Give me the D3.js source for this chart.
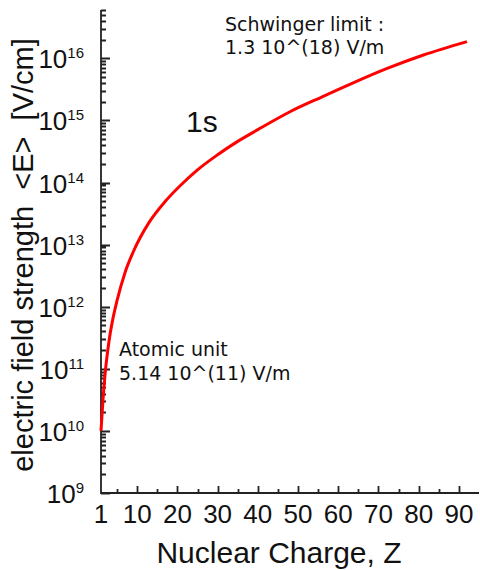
<!DOCTYPE html>
<html>
<head>
<meta charset="utf-8">
<script src="https://cdn.jsdelivr.net/npm/d3@7"></script>
<style>
  body { margin: 0; background: #fff; }
  svg { display: block; }
  .sans { font-family: "Liberation Sans", Arial, sans-serif; fill: #111; }
  .note { font-family: "DejaVu Sans", sans-serif; fill: #111; }
</style>
</head>
<body>
<svg id="chart" width="480" height="570"></svg>
<script>
// Mean electric field of the 1s electron versus nuclear charge
const nuclearCharge = [1, 1.5, 2, 3, 4, 5, 7, 9, 13, 17, 21, 25, 30, 35, 40, 48, 56, 64, 72, 81, 92];
const fieldStrength = [1e10, 3.2e10, 8e10, 2.8e11, 6.6e11, 1.26e12, 3.6e12, 7.6e12, 2.3e13, 5e13,
                       9.3e13, 1.6e14, 2.8e14, 4.6e14, 7.1e14, 1.38e15, 2.4e15, 4.1e15, 6.8e15,
                       1.12e16, 1.86e16];

const xTickLabels = [1, 10, 20, 30, 40, 50, 60, 70, 80, 90];
const xMajorTicks = [10, 20, 30, 40, 50, 60, 70, 80, 90];
const xMinorTicks = [5, 15, 25, 35, 45, 55, 65, 75, 85];
const yDecadeExponents = [9, 10, 11, 12, 13, 14, 15, 16];

const xDomain = [1, 95];
const yDomain = [1e9, 6e16];

const svg = d3.select("#chart");
const plot = { left: 101, right: 479, top: 10, bottom: 493 };

const x = d3.scaleLinear().domain(xDomain).range([plot.left, plot.right]);
const y = d3.scaleLog().domain(yDomain).range([plot.bottom, plot.top]);

const yMajorValues = yDecadeExponents.map(e => Math.pow(10, e));
const yMinorValues = [];
yDecadeExponents.forEach(e => {
  for (let k = 2; k <= 9; k++) {
    const v = k * Math.pow(10, e);
    if (v <= yDomain[1]) yMinorValues.push(v);
  }
});

const axisColor = "#222";
const x0 = x(xDomain[0]);
const y0 = y(yDomain[0]);

// Frame lines and inward ticks, drawn as one path
const p = d3.path();
p.moveTo(x0, y(yDomain[1]));
p.lineTo(x0, y0);
p.lineTo(x(xDomain[1]), y0);
yMajorValues.forEach(v => { const yy = Math.round(y(v)) + 0.5; p.moveTo(x0, yy); p.lineTo(x0 + 9, yy); });
yMinorValues.forEach(v => { const yy = Math.round(y(v)) + 0.5; p.moveTo(x0, yy); p.lineTo(x0 + 5, yy); });
xMajorTicks.forEach(v => { const xx = Math.round(x(v)) + 0.5; p.moveTo(xx, y0); p.lineTo(xx, y0 - 7); });
xMinorTicks.forEach(v => { const xx = Math.round(x(v)) + 0.5; p.moveTo(xx, y0); p.lineTo(xx, y0 - 4); });

svg.append("path")
  .attr("d", p.toString())
  .attr("fill", "none")
  .attr("stroke", axisColor)
  .attr("stroke-width", 1.8);

// Y tick labels: 10 with the exponent raised
const yLab = svg.selectAll("text.ylab").data(yMajorValues).join("text")
  .attr("class", "ylab sans")
  .attr("text-anchor", "end")
  .attr("x", x0 - 17)
  .attr("y", d => y(d) + 10)
  .style("font-size", "26px");
yLab.append("tspan").text("10");
yLab.append("tspan")
  .attr("dy", -10)
  .style("font-size", "15px")
  .text(d => Math.round(Math.log10(d)));

// X tick labels
svg.selectAll("text.xlab").data(xTickLabels).join("text")
  .attr("class", "xlab sans")
  .attr("text-anchor", "middle")
  .attr("x", d => x(d))
  .attr("y", y0 + 30)
  .style("font-size", "26px")
  .text(d3.format("d"));

// Axis titles
svg.append("text")
  .attr("class", "sans")
  .attr("x", 279).attr("y", 563)
  .attr("text-anchor", "middle")
  .style("font-size", "30px")
  .text("Nuclear Charge, Z");

svg.append("text")
  .attr("class", "sans")
  .attr("transform", "translate(33,255) rotate(-90)")
  .attr("text-anchor", "middle")
  .style("font-size", "29px")
  .style("white-space", "pre")
  .text("electric field strength  <E>  [V/cm]");

// Field curve
const points = nuclearCharge.map((z, i) => [z, fieldStrength[i]]);
svg.append("path")
  .datum(points)
  .attr("fill", "none")
  .attr("stroke", "#ff0000")
  .attr("stroke-width", 3)
  .attr("stroke-linejoin", "round")
  .attr("d", d3.line().x(d => x(d[0])).y(d => y(d[1])).curve(d3.curveMonotoneX));

// Annotations
svg.append("text")
  .attr("class", "sans")
  .attr("x", 186).attr("y", 132)
  .style("font-size", "30px")
  .text("1s");

const schwinger = svg.append("text").attr("class", "note").style("font-size", "19px");
schwinger.append("tspan").attr("x", 225).attr("y", 31).text("Schwinger limit :");
schwinger.append("tspan").attr("x", 225).attr("y", 54).text("1.3 10^(18) V/m");

const atomic = svg.append("text").attr("class", "note").style("font-size", "19px");
atomic.append("tspan").attr("x", 119).attr("y", 356).text("Atomic unit");
atomic.append("tspan").attr("x", 119).attr("y", 380).text("5.14 10^(11) V/m");
</script>
</body>
</html>
